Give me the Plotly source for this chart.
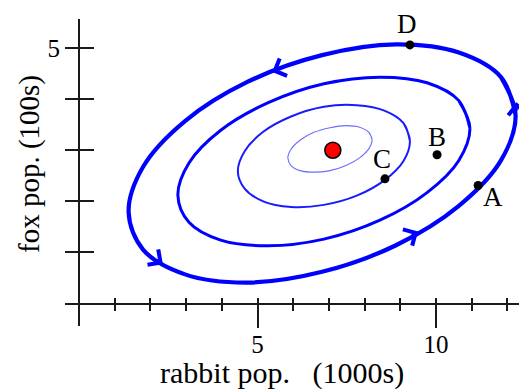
import plotly.graph_objects as go

# ---- data (x: rabbits in 1000s, y: foxes in 100s) ----
outer_x = [12.23, 11.82, 10.64, 8.88, 6.81, 4.73, 2.97, 1.80, 1.39, 1.80, 2.97, 4.73, 6.81, 8.88, 10.64, 11.82]
outer_y = [3.69, 4.43, 4.91, 5.07, 4.86, 4.34, 3.57, 2.68, 1.79, 1.05, 0.57, 0.41, 0.62, 1.14, 1.91, 2.80]

second_x = [10.95, 10.64, 9.75, 8.43, 6.86, 5.30, 3.97, 3.08, 2.77, 3.08, 3.97, 5.30, 6.86, 8.43, 9.75, 10.64]
second_y = [3.43, 3.97, 4.32, 4.43, 4.30, 3.93, 3.39, 2.75, 2.12, 1.59, 1.24, 1.13, 1.26, 1.63, 2.17, 2.80]

third_x = [9.27, 9.09, 8.57, 7.78, 6.86, 5.94, 5.16, 4.64, 4.45, 4.64, 5.16, 5.94, 6.86, 7.78, 8.57, 9.09]
third_y = [3.18, 3.53, 3.77, 3.88, 3.85, 3.66, 3.36, 2.98, 2.59, 2.25, 2.00, 1.89, 1.93, 2.11, 2.42, 2.79]

inner_x = [8.21, 8.12, 7.86, 7.48, 7.03, 6.58, 6.20, 5.94, 5.85, 5.94, 6.20, 6.58, 7.03, 7.48, 7.86, 8.12]
inner_y = [3.20, 3.35, 3.45, 3.48, 3.44, 3.35, 3.20, 3.02, 2.85, 2.70, 2.60, 2.57, 2.60, 2.70, 2.85, 3.03]

equilibrium_x = [7.11]
equilibrium_y = [3.00]

point_labels = ["D", "A", "B", "C"]
point_x = [9.27, 11.18, 10.03, 8.57]
point_y = [5.06, 2.31, 2.91, 2.44]

arrow_x = [5.41, 12.25, 2.35, 9.50]
arrow_y = [4.53, 3.94, 0.77, 1.41]
arrow_dir = [(-0.918, 0.395), (-0.0995, -0.995), (0.819, 0.573), (0.868, -0.496)]  # screen direction

x_major = [0, 5, 10]
x_major_text = ["", "5", "10"]
x_minor = list(range(0, 13))
y_ticks = [0, 1, 2, 3, 4, 5]
y_tick_text = ["", "", "", "", "", "5"]

x_title = "rabbit pop.\u00a0\u00a0\u00a0(1000s)"
y_title = "fox pop. (100s)"

# ---- figure ----
FONT = "Liberation Serif, Times New Roman, serif"
AX = "#1a1a1a"
W, H = 519, 390


def closed(xs, ys):
    return xs + xs[:2], ys + ys[:2]


fig = go.Figure()
curves = [
    (outer_x, outer_y, 4.2, "#0000ff"),
    (second_x, second_y, 3.0, "#0000ff"),
    (third_x, third_y, 2.0, "#1a1aff"),
    (inner_x, inner_y, 1.1, "#6b6bff"),
]
for xs, ys, w, c in curves:
    cx, cy = closed(xs, ys)
    fig.add_trace(go.Scatter(x=cx, y=cy, mode="lines",
                             line=dict(color=c, width=w, shape="spline", smoothing=1.0),
                             hoverinfo="skip", showlegend=False))

fig.add_trace(go.Scatter(x=point_x, y=point_y, mode="markers",
                         marker=dict(color="black", size=9),
                         hoverinfo="skip", showlegend=False))

fig.add_trace(go.Scatter(x=equilibrium_x, y=equilibrium_y, mode="markers",
                         marker=dict(color="#ff0000", size=16, line=dict(color="black", width=1.5)),
                         xaxis="x2", yaxis="y2", hoverinfo="skip", showlegend=False))

label_shift = {"D": (-3, 21), "A": (15, -12), "B": (0, 18), "C": (-3, 20)}
annotations = []
for lab, px_, py_ in zip(point_labels, point_x, point_y):
    sx, sy = label_shift[lab]
    annotations.append(dict(x=px_, y=py_, text=lab, showarrow=False, xshift=sx, yshift=sy,
                            font=dict(family=FONT, size=27, color="black")))

L = 10
for axp, ayp, (dx, dy) in zip(arrow_x, arrow_y, arrow_dir):
    annotations.append(dict(x=axp, y=ayp, text="", showarrow=True, arrowhead=4,
                            arrowsize=2.4, arrowwidth=1.5, arrowcolor="#0000ff",
                            ax=-dx * L, ay=-dy * L, standoff=0))

annotations.append(dict(x=282 / W, y=17 / H, xref="paper", yref="paper",
                        xanchor="center", yanchor="middle",
                        text=x_title, showarrow=False,
                        font=dict(family=FONT, size=30, color="black")))
annotations.append(dict(x=30 / W, y=226 / H, xref="paper", yref="paper",
                        xanchor="center", yanchor="middle",
                        text=y_title, showarrow=False, textangle=-90,
                        font=dict(family=FONT, size=29, color="black")))

xdom = [67 / W, 1.0]
xr = [-12 / 35.7, -12 / 35.7 + 452 / 35.7]
ydom = [64 / H, 371 / H]
yr = [-22.5 / 51.1, -22.5 / 51.1 + 307 / 51.1]
xpos = 86.5 / H
ypos = 79 / W

tickfont = dict(family=FONT, size=25, color="black")

fig.update_layout(
    template="none",
    width=W, height=H,
    margin=dict(l=0, r=0, t=0, b=0),
    paper_bgcolor="white", plot_bgcolor="rgba(0,0,0,0)",
    showlegend=False,
    hovermode=False,
    xaxis=dict(domain=xdom, range=xr, anchor="free", position=xpos,
               showline=True, linecolor=AX, linewidth=2, showgrid=False, zeroline=False,
               tickmode="array", tickvals=x_major, ticktext=x_major_text,
               ticks="outside", ticklen=23, tickwidth=2, tickcolor=AX,
               tickfont=tickfont, automargin=False, ticklabelstandoff=-5,
               minor=dict(tickmode="array", tickvals=x_minor, ticks="outside",
                          ticklen=6, tickwidth=2, tickcolor=AX, showgrid=False)),
    yaxis=dict(domain=ydom, range=yr, anchor="free", position=ypos,
               showline=True, linecolor=AX, linewidth=2, showgrid=False, zeroline=False,
               tickmode="array", tickvals=y_ticks, ticktext=y_tick_text,
               ticks="outside", ticklen=13, tickwidth=2, tickcolor=AX,
               tickfont=tickfont, automargin=False),
    xaxis2=dict(overlaying="x", range=xr, anchor="free", position=xpos,
                showline=False, showgrid=False, zeroline=False,
                tickmode="array", tickvals=x_minor, showticklabels=False,
                ticks="inside", ticklen=6, tickwidth=2, tickcolor=AX, automargin=False),
    yaxis2=dict(overlaying="y", range=yr, anchor="free", position=ypos,
                showline=False, showgrid=False, zeroline=False,
                tickmode="array", tickvals=y_ticks, showticklabels=False,
                ticks="inside", ticklen=14, tickwidth=2, tickcolor=AX, automargin=False),
    annotations=annotations,
)

fig.write_html("out.html",
               config={"displayModeBar": False},
               post_script="document.body.style.margin='0px';document.body.style.overflow='hidden';")
